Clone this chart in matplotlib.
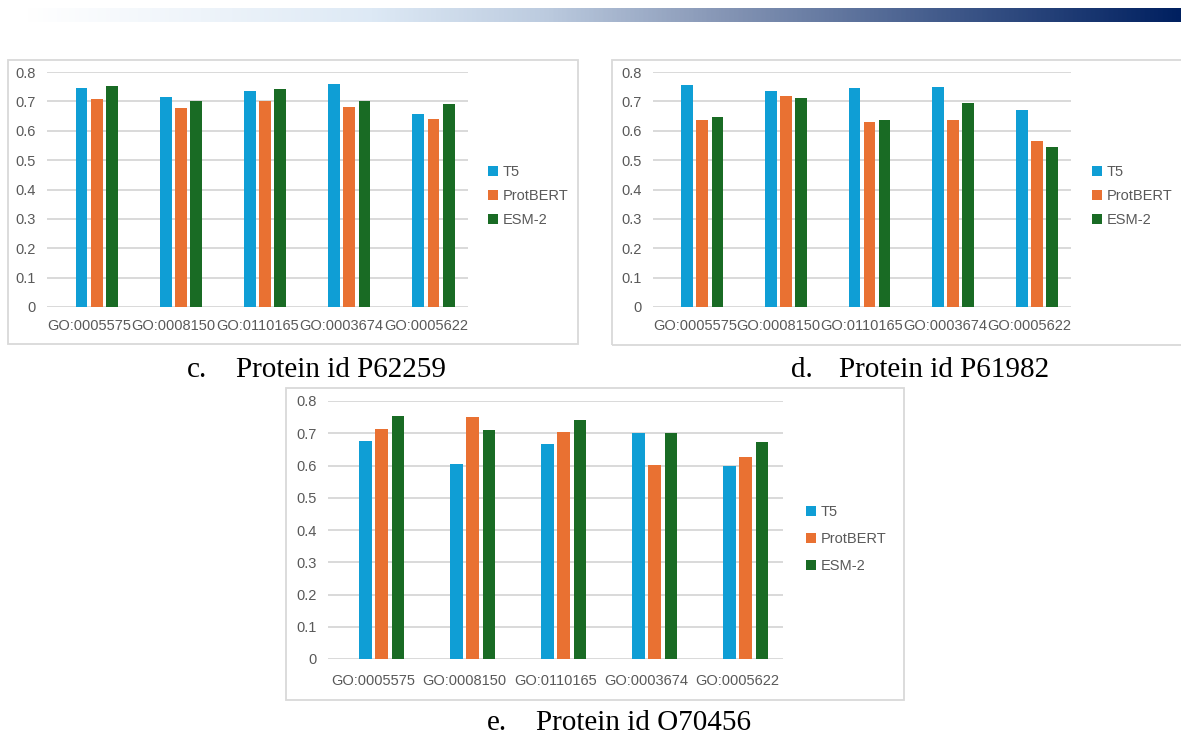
import matplotlib
matplotlib.use("Agg")
import matplotlib.pyplot as plt
import numpy as np
from matplotlib.colors import LinearSegmentedColormap
from matplotlib.patches import Rectangle

plt.rcParams["font.family"] = ["Liberation Sans", "DejaVu Sans"]

W, H = 1181, 735

GO_TERMS = ["GO:0005575", "GO:0008150", "GO:0110165", "GO:0003674", "GO:0005622"]
MODELS = ["T5", "ProtBERT", "ESM-2"]
COLORS = {"T5": "#0F9ED5", "ProtBERT": "#E97132", "ESM-2": "#196B24"}

# per-protein scores, one list per model, in GO_TERMS order
p62259_t5 = [0.747, 0.716, 0.737, 0.759, 0.658]
p62259_protbert = [0.707, 0.676, 0.701, 0.681, 0.641]
p62259_esm2 = [0.754, 0.701, 0.741, 0.701, 0.691]

p61982_t5 = [0.757, 0.737, 0.747, 0.749, 0.671]
p61982_protbert = [0.638, 0.720, 0.631, 0.638, 0.565]
p61982_esm2 = [0.646, 0.712, 0.636, 0.694, 0.545]

o70456_t5 = [0.677, 0.605, 0.667, 0.702, 0.598]
o70456_protbert = [0.712, 0.749, 0.704, 0.602, 0.625]
o70456_esm2 = [0.752, 0.709, 0.742, 0.702, 0.672]

Y_TICKS = [0, 0.1, 0.2, 0.3, 0.4, 0.5, 0.6, 0.7, 0.8]


def px_box(x0, y0, x1, y1):
    """pixel box (top-left origin) -> figure fraction [l, b, w, h]"""
    return [x0 / W, 1 - y1 / H, (x1 - x0) / W, (y1 - y0) / H]


def draw_panel(fig, plot_px, frame_px, series, legend_px, legend_gap, xlab_pad):
    fx0, fy0, fx1, fy1 = frame_px
    fig.patches.append(Rectangle((fx0 / W, 1 - fy1 / H), (fx1 - fx0) / W, (fy1 - fy0) / H,
                                 transform=fig.transFigure, fill=False,
                                 edgecolor="#d9d9d9", lw=1.3, zorder=0))
    ax = fig.add_axes(px_box(*plot_px))
    x = np.arange(len(GO_TERMS))
    # the source chart's clusters sit a little right of the tick labels
    for i, m in enumerate(MODELS):
        ax.bar(x + (i - 0.5) * 0.18, series[m], width=0.14, color=COLORS[m],
               label=m, zorder=3, lw=0)
    ax.set_xlim(-0.5, len(GO_TERMS) - 0.5)
    ax.set_ylim(0, 0.8)
    ax.set_yticks(Y_TICKS)
    ax.set_yticklabels(["0" if v == 0 else f"{v:.1f}" for v in Y_TICKS])
    ax.set_xticks(x)
    ax.set_xticklabels(GO_TERMS)
    ax.tick_params(axis="both", length=0, labelsize=10.5, labelcolor="#595959")
    ax.tick_params(axis="y", pad=8)
    ax.tick_params(axis="x", pad=xlab_pad)
    ax.yaxis.grid(True, color="#d9d9d9", lw=1.4, zorder=0)
    ax.set_axisbelow(True)
    for s in ax.spines.values():
        s.set_visible(False)
    ax.patch.set_alpha(0)
    lx, ly = legend_px
    ax.legend(loc="upper left", bbox_to_anchor=(lx / W, 1 - ly / H),
              bbox_transform=fig.transFigure, frameon=False, fontsize=10.5,
              handlelength=0.7, handleheight=0.7, handletextpad=0.3,
              labelspacing=legend_gap, borderpad=0, borderaxespad=0,
              labelcolor="#595959")
    return ax


fig = plt.figure(figsize=(W / 100, H / 100), dpi=100)

# header gradient bar
grad_cmap = LinearSegmentedColormap.from_list(
    "hdr", [(0, "#ffffff"), (0.3, "#dde9f5"), (0.45, "#bccbdf"),
            (0.6, "#8797b6"), (0.8, "#40598a"), (1.0, "#002060")])
gax = fig.add_axes(px_box(25, 8, 1181, 22))
gax.imshow(np.linspace(0, 1, 512)[None, :], aspect="auto", cmap=grad_cmap)
gax.axis("off")

draw_panel(fig, (47, 72, 468, 307), (8, 60, 578, 344),
           {"T5": p62259_t5, "ProtBERT": p62259_protbert, "ESM-2": p62259_esm2},
           (488, 165), 0.7, 9)
draw_panel(fig, (653, 72, 1071, 307), (612, 60, 1190, 345),
           {"T5": p61982_t5, "ProtBERT": p61982_protbert, "ESM-2": p61982_esm2},
           (1092, 165), 0.7, 9)
draw_panel(fig, (328, 401, 783, 659), (286, 388, 904, 700),
           {"T5": o70456_t5, "ProtBERT": o70456_protbert, "ESM-2": o70456_esm2},
           (806, 505), 0.9, 11)

cap = dict(fontsize=21, family="Liberation Serif", va="baseline", color="black")
for letter, text, xl, xp, yb in [("c.", "Protein id P62259", 187, 236, 377),
                                 ("d.", "Protein id P61982", 791, 839, 377),
                                 ("e.", "Protein id O70456", 487, 536, 730)]:
    fig.text(xl / W, 1 - yb / H, letter, **cap)
    fig.text(xp / W, 1 - yb / H, text, **cap)

fig.savefig("out.png", dpi=100)
